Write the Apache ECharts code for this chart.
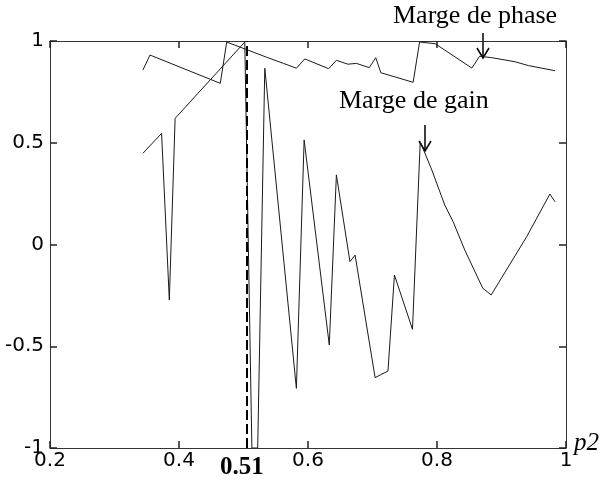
<!DOCTYPE html>
<html>
<head>
<meta charset="utf-8">
<script src="https://cdn.jsdelivr.net/npm/echarts@6/dist/echarts.min.js"></script>
<style>html,body{margin:0;padding:0;background:#fff}#c{width:601px;height:480px}</style>
</head>
<body>
<div id="c"></div>
<script>
// Marge de phase (normalised)
var phaseX = [0.344,0.355,0.464,0.474,0.536,0.562,0.582,0.595,0.632,0.644,0.662,0.675,0.695,0.705,0.713,0.763,0.773,0.797,0.854,0.866,0.885,0.921,0.942,0.983];
var phaseY = [0.857,0.931,0.792,0.995,0.920,0.890,0.866,0.912,0.864,0.905,0.886,0.890,0.869,0.918,0.844,0.797,0.995,0.987,0.867,0.925,0.918,0.898,0.879,0.854];
// Marge de gain (normalised)
var gainX = [0.344,0.373,0.385,0.394,0.502,0.513,0.522,0.533,0.582,0.594,0.633,0.644,0.665,0.673,0.704,0.724,0.734,0.762,0.774,0.792,0.812,0.825,0.843,0.871,0.884,0.939,0.975,0.983];
var gainY = [0.448,0.546,-0.273,0.620,0.995,-1.0,-1.0,0.866,-0.707,0.514,-0.494,0.342,-0.084,-0.052,-0.654,-0.622,-0.150,-0.417,0.505,0.366,0.194,0.112,-0.027,-0.215,-0.248,0.038,0.248,0.210];
var markX = 0.505;
var markLabel = "0.51";
var xTitle = "p2";
var phaseName = "Marge de phase";
var gainName = "Marge de gain";

function pairs(xs, ys){ return xs.map(function(x,i){ return [x, ys[i]]; }); }

var chart = echarts.init(document.getElementById('c'), null, {renderer:'canvas'});
function axisLine(){ return {show:true, onZero:false, lineStyle:{color:'#333', width:1}}; }
function tick(){ return {show:true, inside:true, length:7, lineStyle:{color:'#222', width:1.5}}; }
function lbl(m){ return {show:true, margin:m, fontFamily:'DejaVu Sans', fontSize:20, color:'#000'}; }
chart.setOption({
  animation:false,
  grid:{left:50, right:35, top:41, bottom:32},
  xAxis:[
    {type:'value', min:0.2, max:1, interval:0.2, position:'bottom', axisLine:axisLine(), axisTick:tick(), splitLine:{show:false},
     axisLabel:lbl(3)},
    {type:'value', min:0.2, max:1, interval:0.2, position:'top', axisLine:axisLine(), axisTick:tick(), splitLine:{show:false}, axisLabel:{show:false}}
  ],
  yAxis:[
    {type:'value', min:-1, max:1, interval:0.5, position:'left', axisLine:axisLine(), axisTick:tick(), splitLine:{show:false},
     axisLabel:lbl(6)},
    {type:'value', min:-1, max:1, interval:0.5, position:'right', axisLine:axisLine(), axisTick:tick(), splitLine:{show:false}, axisLabel:{show:false}}
  ],
  series:[
    {name:phaseName, type:'line', data:pairs(phaseX, phaseY), showSymbol:false, symbol:'none',
     lineStyle:{color:'#1a1a1a', width:1}},
    {name:gainName, type:'line', data:pairs(gainX, gainY), showSymbol:false, symbol:'none',
     lineStyle:{color:'#1a1a1a', width:1},
     markLine:{silent:true, symbol:'none', label:{show:false},
       lineStyle:{color:'#000', width:2, type:[10,4]},
       data:[[{coord:[markX,-1]},{coord:[markX,1]}]]}}
  ],
  graphic:[
    {type:'text', left:393, top:3, style:{text:phaseName, font:'26px "Liberation Serif"', fill:'#000'}},
    {type:'text', left:339, top:88, style:{text:gainName, font:'26px "Liberation Serif"', fill:'#000'}},
    {type:'polyline', shape:{points:[[483,33],[483,58]]}, style:{stroke:'#000', lineWidth:1.5}},
    {type:'polyline', shape:{points:[[477,48],[483,58],[489,48]]}, style:{stroke:'#000', lineWidth:1.5, fill:null}},
    {type:'polyline', shape:{points:[[425,125],[425,151]]}, style:{stroke:'#000', lineWidth:1.5}},
    {type:'polyline', shape:{points:[[419,141],[425,151],[431,141]]}, style:{stroke:'#000', lineWidth:1.5, fill:null}},
    {type:'text', left:220, top:455, style:{text:markLabel, font:'bold 25px "Liberation Serif"', fill:'#000'}},
    {type:'text', left:574, top:431, style:{text:xTitle, font:'italic 25px "Liberation Serif"', fill:'#000'}}
  ]
});
</script>
</body>
</html>
